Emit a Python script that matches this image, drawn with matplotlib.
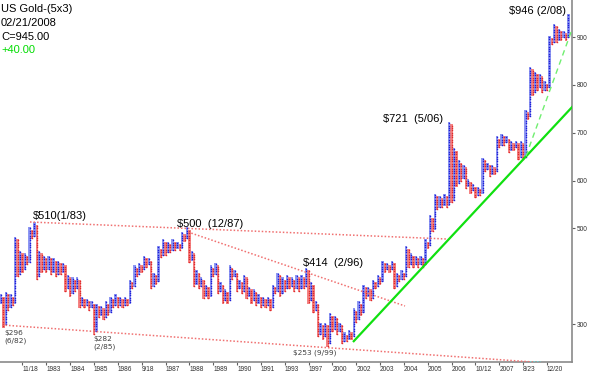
import matplotlib
matplotlib.use('Agg')
import matplotlib.pyplot as plt
from matplotlib.patches import Rectangle
import numpy as np

# ---- data -------------------------------------------------------------
header_lines = ["US Gold-(5x3)", "02/21/2008", "C=945.00", "+40.00"]
box_size = 5
first_low = 345
# column extremes: even index = X column high, odd index = O column low
extremes = [
    360, 295, 365, 330, 360, 340, 480, 400, 450, 410,
    445, 425, 500, 480, 510, 395, 450, 410, 440, 410,
    440, 405, 435, 400, 430, 405, 425, 370, 400, 360,
    395, 370, 395, 335, 355, 335, 350, 330, 345, 280,
    340, 315, 335, 310, 345, 320, 355, 335, 360, 335,
    355, 335, 355, 340, 390, 375, 420, 400, 425, 410,
    440, 420, 435, 375, 405, 385, 460, 440, 475, 445,
    470, 450, 475, 455, 470, 455, 490, 475, 500, 430,
    450, 380, 410, 375, 395, 355, 380, 355, 420, 400,
    425, 365, 385, 345, 370, 345, 420, 395, 410, 370,
    390, 365, 400, 355, 375, 345, 370, 340, 360, 335,
    355, 335, 355, 330, 380, 365, 405, 360, 395, 370,
    400, 375, 395, 370, 400, 370, 400, 375, 415, 345,
    385, 325, 345, 275, 300, 270, 300, 255, 320, 285,
    315, 280, 300, 260, 280, 265, 285, 270, 330, 305,
    345, 320, 380, 355, 375, 350, 390, 375, 400, 385,
    430, 410, 425, 410, 430, 375, 405, 390, 410, 395,
    460, 420, 445, 420, 440, 420, 440, 420, 475, 460,
    525, 495, 570, 540, 565, 545, 570, 545, 720, 555,
    665, 590, 640, 600, 630, 585, 600, 575, 590, 565,
    585, 570, 645, 620, 635, 610, 630, 615, 690, 670,
    695, 675, 690, 660, 680, 665, 680, 645, 680, 645,
    745, 730, 835, 780, 825, 790, 820, 785, 805, 790,
    900, 885, 925, 890, 915, 895, 910, 895, 945,
]
x_tick_labels = ["11/18", "1983", "1984", "1985", "1986", "9/18", "1987",
                 "1988", "1989", "1990", "1991", "1993", "1997", "2000",
                 "2002", "2003", "2004", "2005", "2006", "10/12", "2007",
                 "8/23", "12/20"]
y_ticks = [300, 500, 600, 700, 800, 900]

# ---- build columns ----------------------------------------------------
n = len(extremes)
lows = np.zeros(n)
highs = np.zeros(n)
for i, e in enumerate(extremes):
    if i == 0:
        lows[i], highs[i] = first_low, e
    elif i % 2 == 0:  # X column
        lows[i], highs[i] = lows[i - 1] + box_size, e
    else:             # O column
        lows[i], highs[i] = e, highs[i - 1] - box_size

W, H = 600, 372
fig = plt.figure(figsize=(W / 100, H / 100), dpi=100)
fig.patch.set_facecolor('white')
ax = fig.add_axes([0, (H - 362) / H, 572 / W, 362 / H])
ax.set_xlim(-0.42, 239.5)
ax.set_ylim(220.6, 977.4)

X_FILL, X_DOT = '#8e98f2', '#1e1ed8'
O_FILL, O_DOT = '#f48484', '#e02a2a'
for i in range(n):
    is_x = (i % 2 == 0)
    lo, hi = lows[i], highs[i]
    ax.add_patch(Rectangle((i - 0.5, lo - box_size / 2), 1.0,
                           hi - lo + box_size,
                           facecolor=X_FILL if is_x else O_FILL,
                           edgecolor='none', zorder=2))
    pts = np.arange(lo, hi + 0.1, box_size)
    ax.plot(np.full(len(pts), i), pts, linestyle='none', marker='s',
            markersize=1.0, markeredgewidth=0,
            color=X_DOT if is_x else O_DOT, zorder=3)


def p2d(x, y):
    return ax.transData.inverted().transform((x, H - y))


def seg(p1, p2, **kw):
    a = p2d(*p1)
    b = p2d(*p2)
    ax.plot([a[0], b[0]], [a[1], b[1]], **kw)


red_kw = dict(color='#f07070', lw=1.1, dashes=(1, 1.3), zorder=4)
seg((30, 222), (447, 239), **red_kw)
seg((188, 232), (405, 306), **red_kw)
seg((2, 325), (533, 362), **red_kw)
seg((530, 361.5), (541, 361.5), color='#60e0e0', lw=1.1, dashes=(1, 1.3), zorder=4)
seg((353, 342), (574, 105), color='#10e010', lw=1.6, zorder=5, solid_capstyle='butt')
seg((526, 156), (574, 24), color='#70ee70', lw=1.0, dashes=(4, 3), zorder=5)

# axes styling
for s in ['top', 'left']:
    ax.spines[s].set_visible(False)
for s in ['right', 'bottom']:
    ax.spines[s].set_color('#8a8a8a')
    ax.spines[s].set_linewidth(1.2)
ax.yaxis.tick_right()
ax.set_yticks(y_ticks)
ax.set_yticklabels([str(v) for v in y_ticks], fontsize=4.7,
                   family='Liberation Sans', color='#303030')
ax.tick_params(axis='y', length=2.5, width=0.8, color='#606060', pad=1)
ax.set_xticks(np.arange(9, 9 + 10 * len(x_tick_labels), 10))
ax.set_xticklabels(x_tick_labels, fontsize=4.7, family='Liberation Sans',
                   color='#303030')
for lab in ax.get_xticklabels():
    lab.set_horizontalalignment('left')
ax.tick_params(axis='x', length=2, width=0.8, color='#606060', pad=1)
ax.set_facecolor('white')


def ftext(x, y, s, **kw):
    fig.text(x / W, 1 - y / H, s, va='baseline', ha='left', **kw)


big = dict(fontsize=8, family='Liberation Sans', color='black')
ftext(1, 12, header_lines[0], **big)
ftext(1, 26, header_lines[1], **big)
ftext(1, 39.5, header_lines[2], **big)
ftext(1, 53, header_lines[3], fontsize=8, family='Liberation Sans', color='#00dd00')

ftext(33, 219, "$510(1/83)", **big)
ftext(177, 227, "$500  (12/87)", **big)
ftext(303, 266, "$414  (2/96)", **big)
ftext(383, 122, "$721  (5/06)", **big)
ftext(509, 14, "$946 (2/08)", **big)

small = dict(fontsize=5.3, family='DejaVu Sans', color='#404040')
ftext(4, 335, "$296", **small)
ftext(4, 343, "(6/82)", **small)
ftext(93, 341, "$282", **small)
ftext(93, 349, "(2/85)", **small)
ftext(293, 355, "$253 (9/99)", **small)

fig.savefig('out.png', dpi=100, facecolor='white')
